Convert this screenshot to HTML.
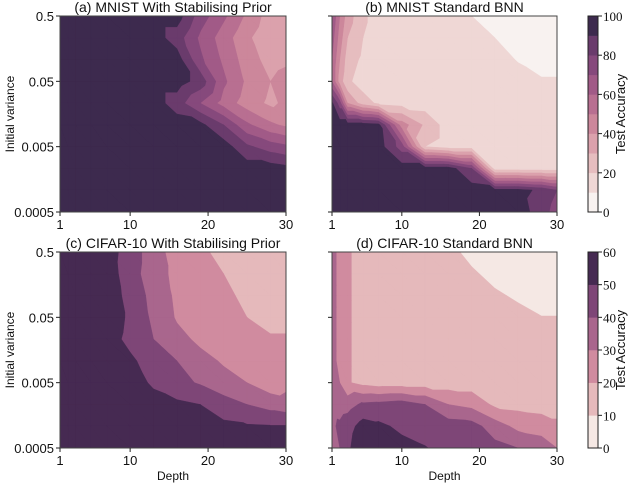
<!DOCTYPE html>
<html><head><meta charset="utf-8">
<style>
html,body{margin:0;padding:0;background:#fff;}
svg{display:block;}
text{font-family:"Liberation Sans",sans-serif;fill:#111;}
.cb{font-family:"Liberation Serif",serif;}
</style></head>
<body>
<svg id="fig" width="640" height="483" viewBox="0 0 640 483" xmlns="http://www.w3.org/2000/svg"></svg>
<script>
const depths=[1,2,3,5,7,10,13,16,19,22,25,28,30];
const variances=[0.5,0.232,0.108,0.05,0.0232,0.0108,0.005,0.00232,0.00108,0.0005];
const xTicks=[1,10,20,30];
const yTicks=[0.5,0.05,0.005,0.0005];
const yTickLabels=["0.5","0.05","0.005","0.0005"];
const cbTicksTop=[0,20,40,60,80,100];
const cbTicksBot=[0,10,20,30,40,50,60];
const accA=[
[95,95,95,95,95,95,95,95,75,62,48,35,33],
[95,95,95,95,95,95,95,85,68,55,42,32,30],
[95,95,95,95,95,95,95,95,72,58,45,36,38],
[95,95,95,95,95,95,95,95,86,62,48,40,44],
[95,95,95,95,95,95,95,85,70,56,45,38,42],
[95,95,95,95,95,95,95,95,93,80,62,52,48],
[95,95,95,95,95,95,95,95,95,95,82,75,72],
[95,95,95,95,95,95,95,95,95,95,95,95,93],
[95,95,95,95,95,95,95,95,95,95,95,95,95],
[95,95,95,95,95,95,95,95,95,95,95,95,95]];
const accB=[
[70,50,35,22,15,15,15,15,10,6,5,5,5],
[65,45,30,20,15,15,15,15,14,10,7,5,5],
[60,40,25,18,15,15,15,15,15,13,9.5,6,6],
[60,35,22,15,15,15,15,15,15,15,13,11,11],
[92,75,40,25,18,16,15,15,15,15,15,15,15],
[95,95,95,95,93,45,28,15,15,15,15,15,15],
[95,95,95,95,95,75,20,15,15,15,15,15,15],
[95,95,95,95,95,95,95,95,80,15,15,15,15],
[95,95,95,95,95,95,95,95,95,93,93,88,80],
[95,95,95,95,95,95,95,95,95,95,95,85,75]];
const accC=[
[58,58,58,58,55,45,35,25,22,17,15,15,15],
[58,58,58,58,56,44,35,27,24,20,16,15,15],
[58,58,58,58,57,46,37,28,25,22,18,15,15],
[58,58,58,58,57,48,38,29,26,23,20,17,17],
[58,58,58,58,55,47,40,33,28,25,23,21,21],
[58,58,58,58,60,52,45,40,33,29,25,22,22],
[58,58,58,58,58,56,48,43,39,33,30,24,27],
[58,58,58,58,58,58,55,52,50,45,40,36,34],
[58,58,58,58,58,58,58,58,56,52,51,50.5,50.5],
[58,58,58,58,58,58,58,58,58,58,58,58,58]];
const accD=[
[35,26,21,17,15,15,15,12,8,6,5,5,5],
[35,26,21,17,15,15,15,15,11,8,6,5,5],
[35,26,21,17,15,15,15,15,14,11,9,7,7],
[35,26,21,17,15,15,15,15,15,14,12,10.2,10.2],
[35,26,21,17,15,15,15,15,15,15,15,15,15],
[35,26,21,17,15,15,15,15,15,15,15,15,15],
[36,30,21,17,15,15,15,15,15,15,15,15,15],
[36,35,36,42,43,45,40,30,27,18,17,16,16],
[38,42,46,54,52,48,46,45,44,35,27,25,22],
[38,40,48,58,57,53,50.5,47,45,43,40,36,30]];
const levelsTop=[10,20,30,40,50,60,70,80,90];
const levelsBot=[10,20,30,40,50];
const colorsTop=["#f8f2f0","#efd7d5","#e6bdbf","#dba1ac","#cc879b","#b86f91","#a15a87","#86497c","#6a3b6c","#3d2a4e"];
const colorsBot=["#f5e8e4","#e5b9bb","#d08b9f","#a9668d","#7e4677","#462a52"];

const NS="http://www.w3.org/2000/svg";
const svg=document.getElementById('fig');
function el(tag,attrs,parent){const e=document.createElementNS(NS,tag);for(const k in attrs)e.setAttribute(k,attrs[k]);(parent||svg).appendChild(e);return e;}

function clipTri(poly,t){
  const out=[];
  for(let i=0;i<poly.length;i++){
    const a=poly[i],b=poly[(i+1)%poly.length];
    const ina=a[2]>=t,inb=b[2]>=t;
    if(ina)out.push(a);
    if(ina!==inb){const s=(t-a[2])/(b[2]-a[2]);out.push([a[0]+s*(b[0]-a[0]),a[1]+s*(b[1]-a[1]),t]);}
  }
  return out;
}

function panel(name,grid,x0,x1,y0,y1,levels,colors,title,showY,showXLabel){
  const g=el('g',{},svg);
  
  
  const xs=d=>x0+(d-1)/29*(x1-x0);
  const ys=v=>y0+(Math.log10(0.5)-Math.log10(v))/3*(y1-y0);
  const bg=el('rect',{x:x0,y:y0,width:x1-x0,height:y1-y0,fill:colors[0]},g);
  
  
  levels.forEach((t,k)=>{
    let d='';
    for(let r=0;r<variances.length-1;r++){
      for(let c=0;c<depths.length-1;c++){
        const p00=[xs(depths[c]),ys(variances[r]),grid[r][c]];
        const p10=[xs(depths[c+1]),ys(variances[r]),grid[r][c+1]];
        const p11=[xs(depths[c+1]),ys(variances[r+1]),grid[r+1][c+1]];
        const p01=[xs(depths[c]),ys(variances[r+1]),grid[r+1][c]];
        [[p00,p10,p11],[p00,p11,p01]].forEach(tri=>{
          const pl=clipTri(tri,t);
          if(pl.length>=3){d+='M'+pl.map(p=>p[0].toFixed(2)+','+p[1].toFixed(2)).join('L')+'Z';}
        });
      }
    }
    if(d){
      const p=el('path',{d:d,fill:colors[k+1],stroke:colors[k+1],'stroke-width':0.4,'stroke-linejoin':'round'},g);
      
      
    }
  });
  const fr=el('rect',{x:x0,y:y0,width:x1-x0,height:y1-y0,fill:'none',stroke:'#444','stroke-width':1},g);
  
  
  xTicks.forEach(v=>{
    const x=xs(v);
    const tk=el('line',{x1:x,x2:x,y1:y1,y2:y1+4,stroke:'#222'},g);
    
    
    const tl=el('text',{x:x,y:y1+17,'text-anchor':'middle','font-size':13},g);
    
    
    tl.textContent=v;
  });
  yTicks.forEach((v,i)=>{
    const y=ys(v);
    const tk=el('line',{x1:x0-4,x2:x0,y1:y,y2:y,stroke:'#222'},g);
    
    
    if(showY){
      const tl=el('text',{x:x0-6,y:y+5,'text-anchor':'end','font-size':13},g);
      
      
      tl.textContent=yTickLabels[i];
    }
  });
  const tt=el('text',{x:(x0+x1)/2,y:y0-4,'text-anchor':'middle','font-size':14},g);
  
  
  tt.textContent=title;
  if(showY){
    const yl=el('text',{x:0,y:0,'text-anchor':'middle','font-size':12,transform:'translate(14,'+((y0+y1)/2)+') rotate(-90)'},g);
    
    
    yl.textContent='Initial variance';
  }
  if(showXLabel){
    const xl=el('text',{x:(x0+x1)/2,y:y1+32,'text-anchor':'middle','font-size':12},g);
    
    
    xl.textContent='Depth';
  }
}

function colorbar(name,y0,y1,colors,ticks,vmax){
  const g=el('g',{},svg);
  
  
  const x0=588,w=10,n=colors.length,h=(y1-y0)/n;
  colors.forEach((c,i)=>{
    const r=el('rect',{x:x0,y:y1-(i+1)*h,width:w,height:h+0.3,fill:c},g);
    
    
  });
  const fr=el('rect',{x:x0,y:y0,width:w,height:y1-y0,fill:'none',stroke:'#222','stroke-width':1},g);
  
  
  ticks.forEach(v=>{
    const y=y1-v/vmax*(y1-y0);
    const tk=el('line',{x1:x0+w,x2:x0+w+4,y1:y,y2:y,stroke:'#222'},g);
    
    
    const tl=el('text',{x:x0+w+5,y:y+5,'font-size':13,'class':'cb'},g);
    
    
    tl.textContent=v;
  });
  const lb=el('text',{x:0,y:0,'text-anchor':'middle','font-size':13,transform:'translate(625,'+((y0+y1)/2)+') rotate(-90)'},g);
  
  
  lb.textContent='Test Accuracy';
}

panel('panel-a-mnist-stabilising',accA,60,286,16,212,levelsTop,colorsTop,'(a) MNIST With Stabilising Prior',true,false);
panel('panel-b-mnist-standard',accB,332,557,16,212,levelsTop,colorsTop,'(b) MNIST Standard BNN',false,false);
panel('panel-c-cifar-stabilising',accC,60,286,252,448,levelsBot,colorsBot,'(c) CIFAR-10 With Stabilising Prior',true,true);
panel('panel-d-cifar-standard',accD,332,557,252,448,levelsBot,colorsBot,'(d) CIFAR-10 Standard BNN',false,true);
colorbar('colorbar-top',16,212,colorsTop,cbTicksTop,100);
colorbar('colorbar-bottom',252,448,colorsBot,cbTicksBot,60);
</script>
</body></html>
